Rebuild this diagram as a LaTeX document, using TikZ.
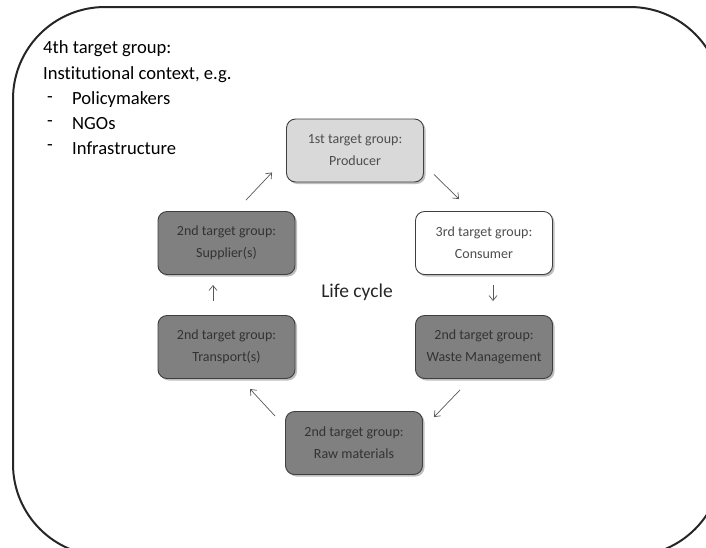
\documentclass[tikz,border=0pt]{standalone}
\usepackage{fontspec}
\setmainfont{Carlito}[RawFeature={-liga}]
\usetikzlibrary{arrows.meta}
\definecolor{boxdark}{HTML}{808080}
\definecolor{boxlight}{HTML}{D9D9D9}
\definecolor{edgecol}{HTML}{3F3F3F}
\definecolor{txtgray}{HTML}{4D4D4D}
\definecolor{txtdark}{HTML}{333333}
\definecolor{arrcol}{HTML}{595959}
\tikzset{
  stagebox/.style={draw=edgecol, line width=0.9pt, rounded corners=9pt,
    minimum width=137pt, minimum height=63pt, align=center,
    font=\fontsize{14}{22}\selectfont, inner sep=0pt},
  darkbox/.style={stagebox, fill=boxdark, text=txtdark},
  lightbox/.style={stagebox, fill=boxlight, text=txtgray},
  whitebox/.style={stagebox, fill=white, text=txtgray},
  arr/.style={draw=arrcol, line width=0.7pt, -{Straight Barb[length=5pt,width=8pt]}},
  listtxt/.style={anchor=west, inner sep=0pt, font=\fontsize{18.6}{22}\selectfont, text=black},
  shadowbox/.style={fill=black!25, rounded corners=9pt, draw=none}
}
\begin{document}
\begin{tikzpicture}[x=1pt,y=-1pt]
\useasboundingbox (0,0) rectangle (706,547);
\begin{scope}
\clip (0,0) rectangle (706,547);
\fill[white] (0,0) rectangle (706,547);
\draw[line width=2pt, draw=black!85, rounded corners=92pt] (13,7) rectangle (722,556);
\end{scope}

% text block
\node[listtxt] (t1) at (43,49) {4th target group:};
\node[listtxt] (t2) at (43,75) {Institutional context, e.g.};
\node[listtxt] (d1) at (47,100) {-};
\node[listtxt] (l1) at (72,100) {Policymakers};
\node[listtxt] (d2) at (47,124) {-};
\node[listtxt] (l2) at (72,124) {NGOs};
\node[listtxt] (d3) at (47,148) {-};
\node[listtxt] (l3) at (72,148) {Infrastructure};

% shadows
\foreach \cx/\cy in {355/150.5, 484/243, 484/347, 354/443, 226.5/347, 226.5/243}{
  \fill[shadowbox] (\cx-68.5+2,\cy-31.5+2) rectangle (\cx+68.5+2,\cy+31.5+2);
}

% boxes
\node[lightbox] (prod) at (355,150.5) {1st target group:\\Producer};
\node[whitebox] (cons) at (484,243) {3rd target group:\\Consumer};
\node[darkbox] (waste) at (484,347) {2nd target group:\\Waste Management};
\node[darkbox] (raw) at (354,443) {2nd target group:\\Raw materials};
\node[darkbox] (trans) at (226.5,347) {2nd target group:\\Transport(s)};
\node[darkbox] (sup) at (226.5,243) {2nd target group:\\Supplier(s)};

\node[font=\fontsize{19.5}{23}\selectfont, text=black!85] (lc) at (357,292) {Life cycle};

% arrows
\draw[arr] ([shift={(10,-8)}]prod.south east) -- ([shift={(44,-12)}]cons.north west);
\draw[arr] ([shift={(9,10)}]cons.south) -- ([shift={(9,-14)}]waste.north);
\draw[arr] ([shift={(-24,11)}]waste.south) -- ([shift={(11,6)}]raw.north east);
\draw[arr] ([shift={(-10,5)}]raw.north west) -- ([shift={(23.5,10)}]trans.south);
\draw[arr] ([shift={(-13.5,-14)}]trans.north) -- ([shift={(-13.5,10)}]sup.south);
\draw[arr] ([shift={(19.5,-11)}]sup.north) -- ([shift={(-14,-10)}]prod.south west);
\end{tikzpicture}
\end{document}
